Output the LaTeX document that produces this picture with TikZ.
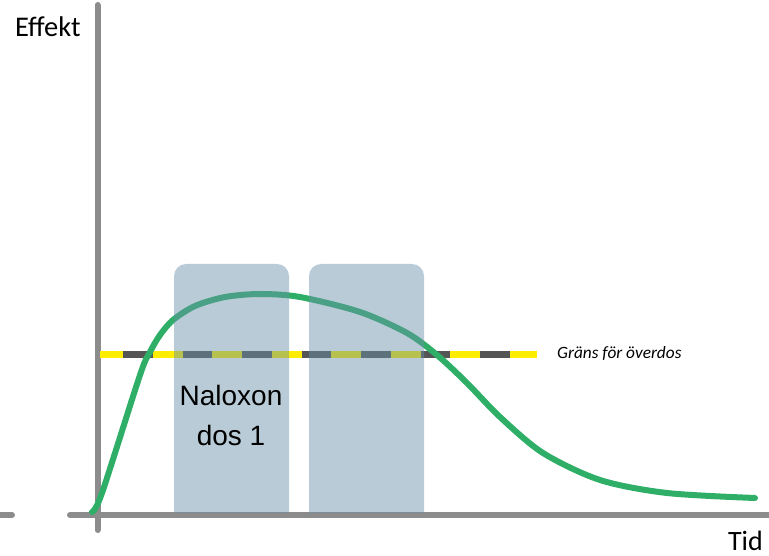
\documentclass[tikz,border=0pt]{standalone}
\usepackage{fontspec}
\usepackage{tikz}
\newfontfamily\myr{Carlito}
\newfontfamily\arialf{Liberation Sans}
\definecolor{axisgray}{RGB}{140,140,140}
\definecolor{curvegreen}{RGB}{46,174,102}
\definecolor{limityellow}{RGB}{255,237,0}
\definecolor{limitdark}{RGB}{85,85,85}
\definecolor{dosebox}{RGB}{104,145,168}

\tikzset{
  axis/.style={draw=axisgray, line width=6pt, line cap=round},
  effect/.style={draw=curvegreen, line width=6pt, line cap=round},
  dosefill/.style={fill=dosebox, fill opacity=0.47, rounded corners=12pt},
  lbl/.style={inner sep=0pt, text=black}
}

\begin{document}
\begin{tikzpicture}[x=1pt, y=-1pt]
\useasboundingbox (0,0) rectangle (769,556);
% axes
\draw[axis] (97.5,5) -- (97.5,530);
\draw[axis] (70,515) -- (772,515);
\draw[axis] (-5,515) -- (12,515);
\node[lbl, anchor=west] (effekt) at (15,27) {\myr\fontsize{28.5}{28.5}\selectfont Effekt};
\node[lbl, anchor=base east] (tid) at (763,550) {\myr\fontsize{28}{28}\selectfont Tid};
% overdose limit
\node[lbl, anchor=west] (limit) at (557,354) {\myr\itshape\fontsize{17.3}{17.3}\selectfont Gräns för överdos};
\coordinate (lstart) at (100,354);
\coordinate (lend) at ([xshift=-20pt]limit.west);
\draw[limityellow, line width=7pt] (lstart) -- (lend);
\draw[limitdark, line width=7pt, dash pattern=on 29.5pt off 30pt] (123,354) -- (lend);
% effect curve
\draw[effect] plot[smooth, tension=0.5] coordinates {(92,512) (102,493) (140,375) (150,352) (160,335) (173,320) (195,306) (225,297) (260,294) (300,297) (360,312) (407,333) (437,355) (467,383) (500,417) (543,453) (600,480) (667,493) (755,498)};
% naloxone doses
\begin{scope}
\clip (0,0) rectangle (769,512);
\fill[dosefill] (174,264) rectangle (289,540);
\fill[dosefill] (309,264) rectangle (424,540);
\end{scope}
\node[lbl, align=center, font=\arialf\fontsize{28}{40}\selectfont] (dos1) at (231,415) {Naloxon\\dos 1};
\end{tikzpicture}
\end{document}
